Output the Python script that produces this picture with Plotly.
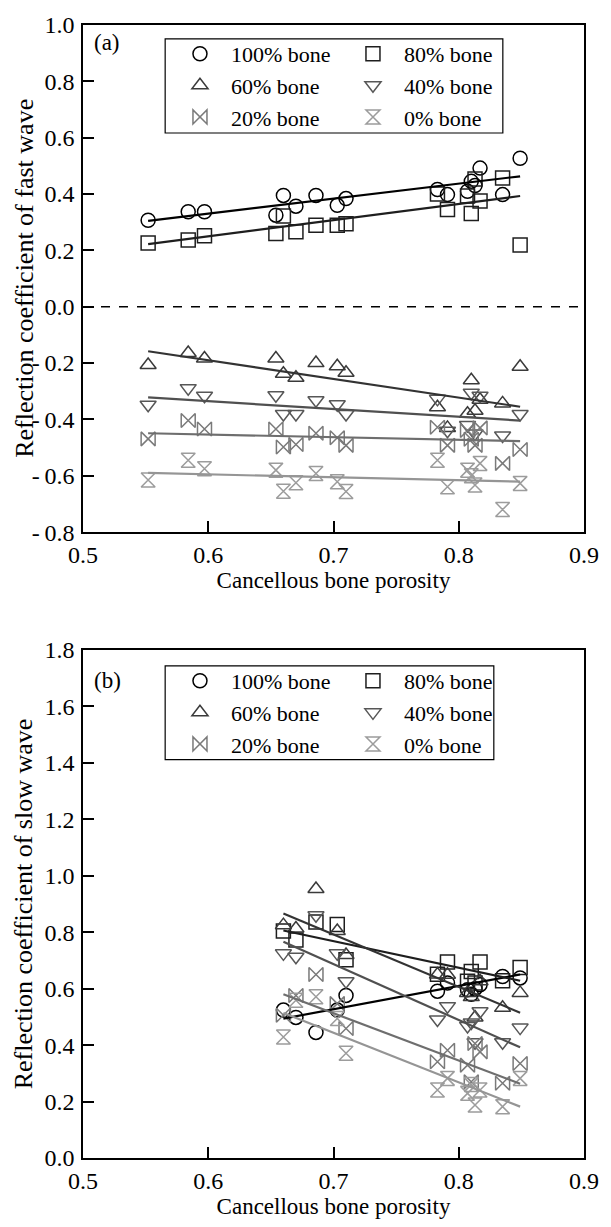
import plotly.graph_objects as go

# ---------------- data ----------------
groups = ["100% bone", "80% bone", "60% bone", "40% bone", "20% bone", "0% bone"]

# panel (a): fast wave
porosity_a = [0.552, 0.584, 0.597, 0.654, 0.660, 0.670, 0.686, 0.703, 0.710,
              0.783, 0.791, 0.807, 0.810, 0.813, 0.817, 0.835, 0.849]
fast_100 = [0.307, 0.337, 0.337, 0.325, 0.395, 0.357, 0.395, 0.360, 0.384,
            0.416, 0.398, 0.410, 0.445, 0.430, 0.492, 0.398, 0.527]
fast_80 = [0.226, 0.237, 0.252, 0.260, 0.322, 0.266, 0.289, 0.289, 0.295,
           0.400, 0.345, 0.393, 0.331, 0.453, 0.375, 0.457, 0.219]
fast_60 = [-0.207, -0.164, -0.184, -0.184, -0.238, -0.252, -0.200, -0.211, -0.234,
           -0.357, -0.430, -0.380, -0.261, -0.369, -0.330, -0.343, -0.213]
fast_40 = [-0.348, -0.289, -0.316, -0.314, -0.381, -0.381, -0.332, -0.346, -0.381,
           -0.327, -0.440, -0.420, -0.305, -0.450, -0.316, -0.457, -0.381]
fast_20 = [-0.469, -0.404, -0.434, -0.434, -0.498, -0.489, -0.449, -0.465, -0.492,
           -0.428, -0.492, -0.439, -0.470, -0.492, -0.430, -0.556, -0.507]
fast_0 = [-0.615, -0.545, -0.575, -0.580, -0.655, -0.625, -0.592, -0.621, -0.656,
          -0.545, -0.639, -0.580, -0.600, -0.633, -0.556, -0.720, -0.627]

# linear fits, panel (a) (end points)
fit_x_a = [0.552, 0.849]
fit_a_100 = [0.305, 0.463]
fit_a_80 = [0.222, 0.393]
fit_a_60 = [-0.158, -0.355]
fit_a_40 = [-0.322, -0.404]
fit_a_20 = [-0.449, -0.477]
fit_a_0 = [-0.590, -0.621]

# panel (b): slow wave
porosity_b = [0.660, 0.670, 0.686, 0.703, 0.710, 0.783, 0.791, 0.807, 0.810,
              0.813, 0.817, 0.835, 0.849]
slow_100 = [0.524, 0.498, 0.445, 0.524, 0.576, 0.591, 0.620, 0.596, 0.580,
            0.600, 0.614, 0.643, 0.638]
slow_80 = [0.804, 0.772, 0.836, 0.827, 0.702, 0.651, 0.694, 0.626, 0.661,
           0.620, 0.694, 0.628, 0.675]
slow_60 = [0.825, 0.813, 0.953, 0.804, 0.719, 0.650, 0.649, 0.585, 0.570,
           0.498, 0.626, 0.532, 0.585]
slow_40 = [0.725, 0.713, 0.860, 0.725, 0.626, 0.491, 0.538, 0.468, 0.480,
           0.410, 0.520, 0.410, 0.462]
slow_20 = [0.506, 0.576, 0.650, 0.547, 0.459, 0.341, 0.382, 0.329, 0.270,
           0.406, 0.376, 0.265, 0.335]
slow_0 = [0.429, 0.559, 0.571, 0.494, 0.371, 0.241, 0.282, 0.229, 0.260,
          0.188, 0.241, 0.182, 0.282]

fit_x_b = [0.660, 0.849]
fit_b_100 = [0.494, 0.650]
fit_b_80 = [0.806, 0.628]
fit_b_60 = [0.866, 0.515]
fit_b_40 = [0.766, 0.392]
fit_b_20 = [0.580, 0.263]
fit_b_0 = [0.514, 0.182]

x_ticks = [0.5, 0.6, 0.7, 0.8, 0.9]
x_ticktext = ["0.5", "0.6", "0.7", "0.8", "0.9"]
ya_ticks = [-0.8, -0.6, -0.4, -0.2, 0.0, 0.2, 0.4, 0.6, 0.8, 1.0]
ya_ticktext = ["-\u20090.8", "-\u20090.6", "-\u20090.4", "-\u20090.2", "0.0",
               "0.2", "0.4", "0.6", "0.8", "1.0"]
yb_ticks = [0.0, 0.2, 0.4, 0.6, 0.8, 1.0, 1.2, 1.4, 1.6, 1.8]
yb_ticktext = ["0.0", "0.2", "0.4", "0.6", "0.8", "1.0", "1.2", "1.4", "1.6", "1.8"]

x_title = "Cancellous bone porosity"
ya_title = "Reflection coefficient of fast wave"
yb_title = "Reflection coefficient of slow wave"

# ---------------- style ----------------
FONT = "Liberation Serif"
symbols = ["circle-open", "square-open", "triangle-up-open", "triangle-down-open",
           "bowtie-open", "hourglass-open"]
marker_colors = ["#000000", "#1e1e1e", "#3a3a3a", "#575757", "#7a7a7a", "#9c9c9c"]
line_colors = ["#000000", "#1e1e1e", "#333333", "#505050", "#6e6e6e", "#959595"]

fast = [fast_100, fast_80, fast_60, fast_40, fast_20, fast_0]
fit_a = [fit_a_100, fit_a_80, fit_a_60, fit_a_40, fit_a_20, fit_a_0]
slow = [slow_100, slow_80, slow_60, slow_40, slow_20, slow_0]
fit_b = [fit_b_100, fit_b_80, fit_b_60, fit_b_40, fit_b_20, fit_b_0]

fig = go.Figure()

for i, g in enumerate(groups):
    fig.add_trace(go.Scatter(
        x=porosity_a, y=fast[i], mode="markers", name=g, legend="legend",
        marker=dict(symbol=symbols[i], size=14, color=marker_colors[i],
                    line=dict(width=1.5, color=marker_colors[i])),
        xaxis="x", yaxis="y"))
for i, g in enumerate(groups):
    fig.add_trace(go.Scatter(
        x=fit_x_a, y=fit_a[i], mode="lines", showlegend=False,
        line=dict(color=line_colors[i], width=2.2), xaxis="x", yaxis="y"))

for i, g in enumerate(groups):
    fig.add_trace(go.Scatter(
        x=porosity_b, y=slow[i], mode="markers", name=g, legend="legend2",
        marker=dict(symbol=symbols[i], size=14, color=marker_colors[i],
                    line=dict(width=1.5, color=marker_colors[i])),
        xaxis="x2", yaxis="y2"))
for i, g in enumerate(groups):
    fig.add_trace(go.Scatter(
        x=fit_x_b, y=fit_b[i], mode="lines", showlegend=False,
        line=dict(color=line_colors[i], width=2.2), xaxis="x2", yaxis="y2"))

tf = dict(family=FONT, size=23, color="black")
tick_font = dict(family=FONT, size=24, color="black")
ytitle_font = dict(family=FONT, size=26, color="black")

axis_common = dict(
    showline=True, linecolor="black", linewidth=1.5, mirror=True,
    ticks="inside", ticklen=11, tickwidth=1.5, tickcolor="black",
    showgrid=False, zeroline=False,
    tickfont=tick_font,
)

legend_common = dict(
    orientation="h", x=0.1716, xanchor="left", yanchor="top",
    entrywidth=106, itemwidth=52, borderwidth=0, bgcolor="rgba(0,0,0,0)",
    font=dict(family=FONT, size=22, color="black"),
)

fig.update_layout(
    width=611, height=1227,
    margin=dict(l=83, r=16, t=21, b=62),
    paper_bgcolor="white", plot_bgcolor="white",
    font=dict(family=FONT, size=23, color="black"),
    showlegend=True,
    xaxis=dict(domain=[0, 1], anchor="y", range=[0.5, 0.9],
               tickvals=x_ticks, ticktext=x_ticktext, ticklabelstandoff=0,
               title=dict(text=x_title, font=tf, standoff=5),
               **axis_common),
    yaxis=dict(domain=[0.5524, 1], anchor="x", range=[-0.8, 1.0],
               tickvals=ya_ticks, ticktext=ya_ticktext, ticklabelstandoff=2,
               **axis_common),
    xaxis2=dict(domain=[0, 1], anchor="y2", range=[0.5, 0.9],
                tickvals=x_ticks, ticktext=x_ticktext, ticklabelstandoff=0,
                title=dict(text=x_title, font=tf, standoff=5),
                **axis_common),
    yaxis2=dict(domain=[0, 0.4484], anchor="x2", range=[0.0, 1.8],
                tickvals=yb_ticks, ticktext=yb_ticktext, ticklabelstandoff=2,
                **axis_common),
    legend=dict(y=0.993, **legend_common),
    legend2=dict(y=0.4396, **legend_common),
    shapes=[
        dict(type="line", xref="x domain", x0=0, x1=1, yref="y", y0=0, y1=0,
             line=dict(color="black", width=1.5, dash="dash")),
        # legend frames
        dict(type="rect", xref="x domain", yref="y domain",
             x0=0.164, x1=0.838, y0=0.787, y1=0.9727,
             line=dict(color="black", width=1.2), fillcolor="rgba(0,0,0,0)", layer="below"),
        dict(type="rect", xref="x2 domain", yref="y2 domain",
             x0=0.164, x1=0.820, y0=0.7841, y1=0.9688,
             line=dict(color="black", width=1.2), fillcolor="rgba(0,0,0,0)", layer="below"),
    ],
    annotations=[
        dict(text="(a)", xref="x domain", yref="y domain", x=0.018, y=0.965,
             xanchor="left", yanchor="middle", showarrow=False, font=tf),
        dict(text="(b)", xref="x2 domain", yref="y2 domain", x=0.018, y=0.9396,
             xanchor="left", yanchor="middle", showarrow=False, font=tf),
        # y-axis titles
        dict(text=ya_title, xref="paper", yref="y domain", x=-0.1172, y=0.5,
             xanchor="center", yanchor="middle", textangle=-90, showarrow=False,
             font=ytitle_font),
        dict(text=yb_title, xref="paper", yref="y2 domain", x=-0.1172, y=0.5,
             xanchor="center", yanchor="middle", textangle=-90, showarrow=False,
             font=ytitle_font),
    ],
)

fig.write_html("out.html",
               config={"displayModeBar": False},
               post_script="document.body.style.margin='0px';"
                           "document.body.style.overflow='hidden';")
